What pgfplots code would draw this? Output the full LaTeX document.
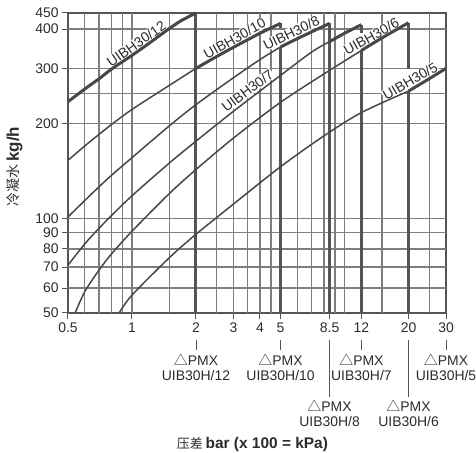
\documentclass[border=0pt]{standalone}
\usepackage{pgfplots}
\pgfplotsset{compat=1.18}
\usepackage{fontspec}
\setmainfont{Liberation Sans}
\newfontfamily\cjk{Noto Sans CJK SC}
\definecolor{crv}{HTML}{474747}
\definecolor{frm}{HTML}{555555}
\definecolor{txt}{HTML}{2B2B2B}
\definecolor{gridc}{HTML}{7E7E7E}
\tikzset{
  cthin/.style={crv, line width=1.5bp, smooth},
  cthk/.style={crv, line width=3bp, smooth},
  vrt/.style={frm, line width=3bp},
  lab/.style={font=\fontsize{14}{16}\selectfont, text=txt},
  clab/.style={font=\fontsize{14}{16}\selectfont, text=txt, fill=white, inner sep=0.6bp, anchor=base, yshift=3bp},
  tk/.style={frm, line width=0.8bp},
}
\begin{document}
\begin{tikzpicture}[x=1bp,y=1bp]
\begin{axis}[
  at={(68bp,140bp)}, anchor=south west,
  scale only axis, width=378bp, height=300bp,
  xmode=log, ymode=log, xmin=0.5, xmax=30, ymin=50, ymax=450,
  xtick={0.5,1,2,3,4,5,8.5,12,20,30},
  xticklabels={0.5,1,2,3,4,5,8.5,12,20,30},
  ytick={50,60,70,80,90,100,200,300,400,450},
  yticklabels={50,60,70,80,90,100,200,300,400,450},
  tick align=outside, major tick length=6bp,
  tick style={frm, line width=1bp},
  axis line style={frm, line width=2.4bp},
  xtick pos=bottom, ytick pos=left,
  ticklabel style={font=\fontsize{14}{16}\selectfont, text=txt},
  /pgf/number format/assume math mode=true,
  clip=false,
]
% grid
\pgfplotsinvokeforeach{0.6,0.7,0.8,0.9,1,1.5,2.5,3,3.5,4,4.5,6,7,8,9,10,15,25}{
  \addplot[draw=gridc, line width=1.3bp, forget plot] coordinates {(#1,50) (#1,450)};
}
\pgfplotsinvokeforeach{60,70,80,90,100,200,250,300,400}{
  \addplot[draw=gridc, line width=1.4bp, forget plot] coordinates {(0.5,#1) (30,#1)};
}
% curve labels (white boxes over grid)
\node[clab, rotate=35] at (axis cs:1.08,341) {UIBH30/12};
\node[clab, rotate=29] at (axis cs:3.12,354) {UIBH30/10};
\node[clab, rotate=26] at (axis cs:5.75,368) {UIBH30/8};
\node[clab, rotate=37] at (axis cs:3.61,242) {UIBH30/7};
\node[clab, rotate=29] at (axis cs:13.7,359) {UIBH30/6};
\node[clab, rotate=30] at (axis cs:20.9,259) {UIBH30/5};
% vertical thick limits
\addplot[vrt] coordinates {(2,50) (2,450)};
\addplot[vrt] coordinates {(5,417) (5,402)};
\addplot[vrt] coordinates {(5,351) (5,50)};
\addplot[vrt] coordinates {(8.5,417) (8.5,50)};
\addplot[vrt] coordinates {(12,413) (12,389)};
\addplot[vrt] coordinates {(12,342) (12,50)};
\addplot[vrt] coordinates {(20,419) (20,298)};
\addplot[vrt] coordinates {(20,254) (20,50)};
% UIBH30/12
\addplot[cthk] coordinates {(0.5,235) (0.6,258) (0.7,278) (0.81,300) (1,330) (1.2,360) (1.47,398) (1.7,425) (2,450)};
% UIBH30/10
\addplot[cthin] coordinates {(0.5,153) (0.6,170) (0.7,185) (0.81,200) (1,222) (1.5,265) (2,300)};
\addplot[cthk] coordinates {(2,300) (2.5,327) (3,350) (4,388) (5,417)};
% UIBH30/8
\addplot[cthin] coordinates {(0.5,101) (0.6,114) (0.7,126) (0.8,137) (1,156) (1.5,197) (2,230) (3,280) (4,320) (5,351)};
\addplot[cthk] coordinates {(5,351) (6,373) (7,392) (8.5,417)};
% UIBH30/7
\addplot[cthin] coordinates {(0.5,71) (0.6,83) (0.7,93) (0.8,102) (1,118) (1.5,150) (2,176) (3,219) (5,285) (7,338) (8.5,365)};
\addplot[cthk] coordinates {(8.5,365) (10,388) (12,413)};
% UIBH30/6
\addplot[cthin] coordinates {(0.54,50) (0.6,58.5) (0.7,68.5) (0.8,77) (1,91) (1.5,120) (2,143) (3,180) (5,234) (8,288) (12,342)};
\addplot[cthk] coordinates {(12,342) (15,375) (20,419)};
% UIBH30/5
\addplot[cthin] coordinates {(0.87,50) (1,57) (1.5,75) (2,89) (3,111) (5,146) (8,183) (12,217) (20,254)};
\addplot[cthk] coordinates {(20,254) (25,278) (30,300)};
% PMX annotations
\draw[tk] ([yshift=-27bp]axis cs:2,50) -- ([yshift=-37bp]axis cs:2,50);
\node[lab] at ([yshift=-47bp]axis cs:2,50) {{\cjk △}PMX};
\node[lab] at ([yshift=-63bp]axis cs:2,50) {UIB30H/12};
\draw[tk] ([yshift=-27bp]axis cs:5,50) -- ([yshift=-37bp]axis cs:5,50);
\node[lab] at ([yshift=-47bp]axis cs:5,50) {{\cjk △}PMX};
\node[lab] at ([yshift=-63bp]axis cs:5,50) {UIB30H/10};
\draw[tk] ([yshift=-27bp]axis cs:12,50) -- ([yshift=-37bp]axis cs:12,50);
\node[lab] at ([yshift=-47bp]axis cs:12,50) {{\cjk △}PMX};
\node[lab] at ([yshift=-63bp]axis cs:12,50) {UIB30H/7};
\draw[tk] ([yshift=-27bp]axis cs:30,50) -- ([yshift=-37bp]axis cs:30,50);
\node[lab] at ([yshift=-47bp]axis cs:30,50) {{\cjk △}PMX};
\node[lab] at ([yshift=-63bp]axis cs:30,50) {UIB30H/5};
\draw[tk] ([yshift=-27bp]axis cs:8.5,50) -- ([yshift=-84bp]axis cs:8.5,50);
\node[lab] at ([yshift=-93bp]axis cs:8.5,50) {{\cjk △}PMX};
\node[lab] at ([yshift=-109bp]axis cs:8.5,50) {UIB30H/8};
\draw[tk] ([yshift=-27bp]axis cs:20,50) -- ([yshift=-84bp]axis cs:20,50);
\node[lab] at ([yshift=-93bp]axis cs:20,50) {{\cjk △}PMX};
\node[lab] at ([yshift=-109bp]axis cs:20,50) {UIB30H/6};
\node[text=txt] at ([yshift=-132bp]rel axis cs:0.488,0) {{\cjk\fontsize{13}{15}\selectfont 压差} {\fontsize{15.5}{17}\selectfont\bfseries bar (x 100 = kPa)}};
\node[text=txt, rotate=90] at ([xshift=-53.5bp]rel axis cs:0,0.488) {{\cjk\fontsize{14}{16}\selectfont 冷凝水} {\fontsize{17}{19}\selectfont\bfseries kg/h}};
\end{axis}
\pgfresetboundingbox
\path[use as bounding box] (0,0) rectangle (476bp,453bp);
\end{tikzpicture}
\end{document}
